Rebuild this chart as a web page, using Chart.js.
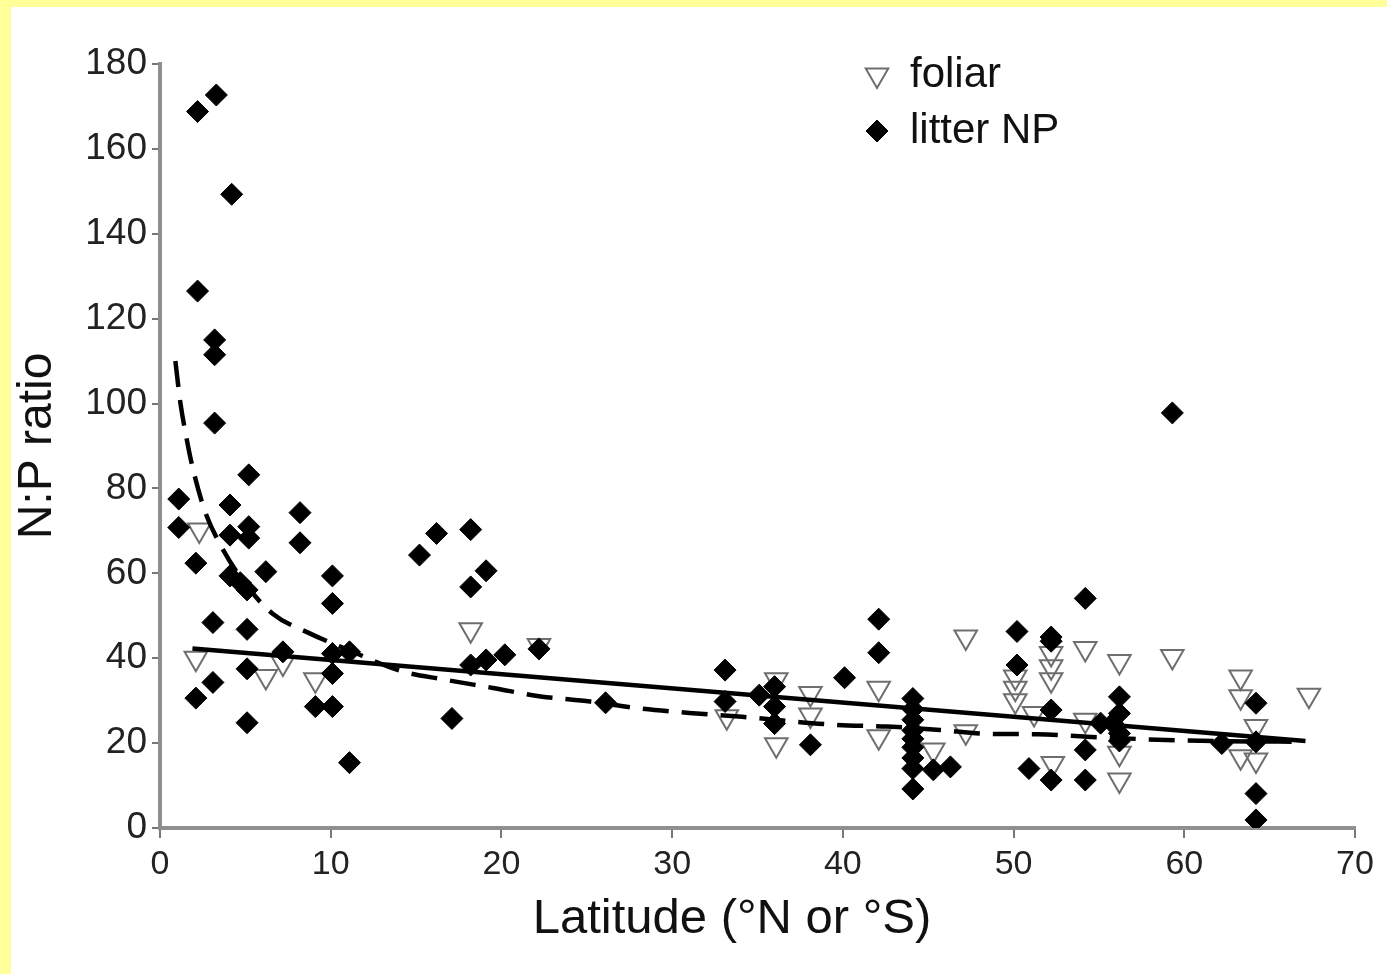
<!DOCTYPE html>
<html>
<head>
<meta charset="utf-8">
<title>N:P ratio vs latitude</title>
<script src="https://cdn.jsdelivr.net/npm/chart.js@4.4.0/dist/chart.umd.min.js"></script>
<style>
  html, body { margin: 0; padding: 0; background: #ffff99; }
  #wrap { position: absolute; left: 11px; top: 7px; width: 1376px; height: 967px; background: #fff; }
</style>
</head>
<body>
<div id="wrap"><canvas id="np"></canvas></div>
<script>
// foliar N:P, [latitude, ratio]
const foliar = [
  [2.3, 70.2], [2.1, 40], [6.2, 35.7], [7.2, 38.9], [9.1, 34.9], [18.2, 46.7], [22.2, 43],
  [33.2, 26.2], [36.1, 34.9], [36.1, 19.6], [38.1, 31.7], [38.1, 26.6], [42.1, 32.9], [42.1, 21.5],
  [45.3, 18.4], [47.2, 45], [47.2, 22.7], [50.1, 35.6], [50.1, 32.9], [50.1, 30], [51.2, 27],
  [52.3, 15.2], [52.2, 41.1], [52.2, 38], [52.2, 34.9], [54.2, 42.3], [54.2, 25.4], [56.2, 39.2],
  [56.2, 17.6], [56.2, 11.3], [59.3, 40.4], [63.3, 35.6], [63.3, 30.9], [63.3, 16.8], [64.2, 23.9],
  [64.2, 16], [67.3, 31.3]
];

// litter N:P, [latitude, ratio]
const litter = [
  [1.1, 77.5], [1.1, 70.8], [2.2, 168.8], [3.3, 172.7], [4.2, 149.3], [2.2, 126.5], [3.2, 115],
  [3.2, 111.5], [3.2, 95.4], [5.2, 83.2], [4.1, 76.1], [8.2, 74.3], [5.2, 71], [5.2, 68.3], [4.1, 69],
  [8.2, 67.2], [2.1, 62.4], [4.1, 59.4], [6.2, 60.4], [5.1, 56.1], [4.7, 57.8], [10.1, 59.4], [10.1, 52.9],
  [3.1, 48.4], [5.1, 46.8], [7.2, 41.5], [10.1, 41.1], [11.1, 41.5], [5.1, 37.5], [10.1, 36.4],
  [3.1, 34.3], [2.1, 30.6], [9.1, 28.6], [10.1, 28.6], [5.1, 24.8], [11.1, 15.4],
  [16.2, 69.4], [18.2, 70.3], [15.2, 64.3], [19.1, 60.6], [18.2, 56.8], [22.2, 42.2], [20.2, 40.8],
  [19.1, 39.6], [18.2, 38.4], [17.1, 25.8], [26.1, 29.5],
  [33.1, 37.2], [33.1, 29.8], [36, 33.3], [35.1, 31.3], [36, 28.6], [36, 24.6], [38.1, 19.6],
  [40.1, 35.4], [42.1, 49.2], [42.1, 41.3],
  [44.1, 30.5], [44.1, 28], [44.1, 25.5], [44.1, 23], [44.1, 21], [44.1, 19], [44.1, 16.5],
  [44.1, 14], [44.1, 9.2], [45.3, 13.7], [46.3, 14.4],
  [50.2, 46.3], [50.2, 38.4], [50.9, 14], [52.2, 11.3], [52.2, 45], [52.2, 44], [52.2, 27.8],
  [54.2, 54.1], [54.2, 18.4], [54.2, 11.3], [56.2, 30.9], [56.2, 27], [55.8, 24.7], [56.2, 22.3],
  [56.2, 20.5], [55.1, 24.7], [59.3, 97.8], [62.2, 19.9], [64.2, 29.4], [64.2, 20.3], [64.2, 8.1],
  [64.2, 1.9]
];

// fitted trends
const foliarFit = [[1.9, 42.3], [67.1, 20.5]];
const litterFit = [
  [0.9, 110], [1.2, 100], [1.5, 93], [1.85, 86], [2.6, 75], [3.5, 67], [5, 57.5], [6.6, 50.5],
  [8.8, 45.8], [11, 42], [14.1, 37], [16.6, 35], [19.5, 33], [22.3, 31], [25.2, 29.8], [28, 28.2],
  [31, 27.1], [34.1, 26.2], [39.6, 24.3], [42.6, 23.9], [45.7, 23.1], [48.4, 22.2], [51.4, 22.1],
  [54.3, 21.5], [60.1, 20.6], [67, 20.3]
];

const xTicks = [0, 10, 20, 30, 40, 50, 60, 70];
const yTicks = [0, 20, 40, 60, 80, 100, 120, 140, 160, 180];
const xTitle = 'Latitude (°N or °S)';

const toXY = arr => arr.map(p => ({ x: p[0], y: p[1] }));
const FONT = '"Liberation Sans", Arial, sans-serif';

// legend inside the plot (top right) and the x axis title
const extras = {
  id: 'extras',
  afterDraw(chart) {
    const ctx = chart.ctx;
    ctx.save();
    ctx.font = '42px ' + FONT;
    ctx.textBaseline = 'middle';
    ctx.textAlign = 'left';
    [chart.data.datasets[0], chart.data.datasets[1]].forEach((ds, i) => {
      const y = 68 + i * 56;
      ctx.fillStyle = ds.backgroundColor;
      ctx.strokeStyle = ds.borderColor;
      ctx.lineWidth = ds.borderWidth;
      Chart.helpers.drawPoint(ctx, {
        pointStyle: ds.pointStyle, radius: ds.pointRadius,
        rotation: ds.rotation || 0, borderWidth: ds.borderWidth
      }, 866, y);
      ctx.fillStyle = '#111';
      ctx.fillText(ds.label, 899, y);
    });

    ctx.font = '49px ' + FONT;
    ctx.textAlign = 'center';
    ctx.textBaseline = 'alphabetic';
    ctx.fillStyle = '#111';
    ctx.fillText(xTitle, 721, 926);
    ctx.restore();
  }
};

new Chart(document.getElementById('np'), {
  type: 'scatter',
  data: {
    datasets: [
      {
        label: 'foliar',
        data: toXY(foliar),
        pointStyle: 'triangle',
        rotation: 180,
        pointRadius: 13,
        backgroundColor: 'rgba(0,0,0,0)',
        borderColor: '#6e6e6e',
        borderWidth: 2,
        order: 3
      },
      {
        label: 'litter NP',
        data: toXY(litter),
        pointStyle: 'rectRot',
        pointRadius: 11,
        backgroundColor: '#000',
        borderColor: '#000',
        borderWidth: 1,
        order: 2
      },
      {
        label: 'foliar fit',
        data: toXY(foliarFit),
        showLine: true,
        pointRadius: 0,
        borderColor: '#000',
        borderWidth: 4.5,
        order: 1
      },
      {
        label: 'litter fit',
        data: toXY(litterFit),
        showLine: true,
        pointRadius: 0,
        borderColor: '#000',
        borderWidth: 4.5,
        borderDash: [26, 13],
        cubicInterpolationMode: 'monotone',
        order: 1
      }
    ]
  },
  options: {
    responsive: true,
    maintainAspectRatio: false,
    animation: false,
    layout: { padding: { top: 57, right: 32, left: 0, bottom: 0 } },
    plugins: {
      legend: { display: false },
      tooltip: { enabled: false }
    },
    scales: {
      x: {
        type: 'linear',
        min: 0,
        max: 70,
        afterFit: s => { s.height = 146; },
        afterBuildTicks: s => { s.ticks = xTicks.map(v => ({ value: v })); },
        border: { display: true, color: '#8f8f8f', width: 4 },
        grid: { drawOnChartArea: false, drawTicks: true, tickLength: 10, color: '#777', lineWidth: 2 },
        ticks: { color: '#222', font: { family: FONT, size: 34 }, padding: 6 }
      },
      y: {
        type: 'linear',
        min: 0,
        max: 180,
        afterFit: s => { s.width = 149; },
        afterBuildTicks: s => { s.ticks = yTicks.map(v => ({ value: v })); },
        border: { display: true, color: '#8f8f8f', width: 4 },
        grid: { drawOnChartArea: false, drawTicks: true, tickLength: 8, color: '#777', lineWidth: 2 },
        ticks: { color: '#222', font: { family: FONT, size: 37 }, padding: 5 },
        title: {
          display: true,
          text: 'N:P ratio',
          color: '#111',
          font: { family: FONT, size: 48, lineHeight: 1 },
          padding: { top: 3, bottom: 0 }
        }
      }
    }
  },
  plugins: [extras]
});
</script>
</body>
</html>
